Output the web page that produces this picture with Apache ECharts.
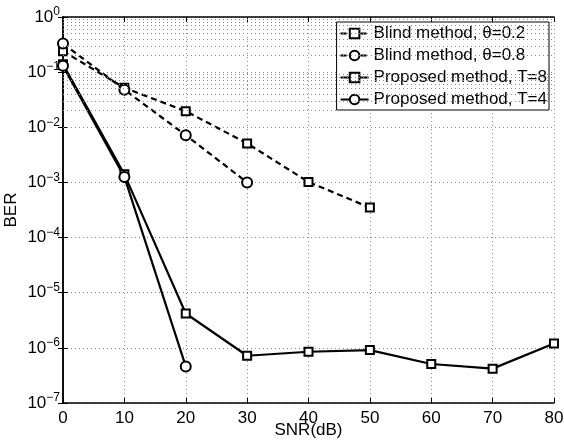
<!DOCTYPE html>
<html>
<head>
<meta charset="utf-8">
<script src="https://cdn.jsdelivr.net/npm/echarts@6/dist/echarts.min.js"></script>
<style>
  html, body { margin: 0; padding: 0; background: #fff; }
  #chart { width: 564px; height: 444px; }
</style>
</head>
<body>
<div id="chart"></div>
<script>
// SNR values (dB)
var snrBlind02 = [0, 10, 20, 30, 40, 50];
var snrBlind08 = [0, 10, 20, 30];
var snrT8 = [0, 10, 20, 30, 40, 50, 60, 70, 80];
var snrT4 = [0, 10, 20];

// BER
var berBlind02 = [0.24, 0.052, 0.0196, 0.0051, 0.00102, 0.00035];
var berBlind08 = [0.33, 0.048, 0.0072, 0.001];
var berT8 = [0.139, 0.0014, 4.2e-6, 7.2e-7, 8.5e-7, 9.1e-7, 5.1e-7, 4.2e-7, 1.2e-6];
var berT4 = [0.13, 0.00126, 4.6e-7];

var seriesNames = [
    'Blind method, \u03b8=0.2',
    'Blind method, \u03b8=0.8',
    'Proposed method, T=8',
    'Proposed method, T=4'
];

function pairs(xs, ys) {
    return xs.map(function (x, i) { return [x, ys[i]]; });
}

// minor log grid lines (2..9 x 10^k)
var minorLines = [];
for (var k = -7; k < 0; k++) {
    for (var m = 2; m <= 9; m++) {
        minorLines.push({ yAxis: m * Math.pow(10, k) });
    }
}

var font = 'Liberation Sans, Arial, sans-serif';
var dotted = { color: '#8c8c8c', width: 1, type: [1, 3] };

function supLabel(v) {
    var e = Math.round(Math.log10(v));
    var s = e < 0 ? '\u2212' + (-e) : String(e);
    return '{b|10}{e|' + s + '}';
}

var chart = echarts.init(document.getElementById('chart'));

function mkSeries(name, data, symbol, size, dashed) {
    return {
        name: name,
        type: 'line',
        data: data,
        symbol: symbol,
        symbolSize: size,
        showAllSymbol: true,
        lineStyle: { color: '#000', width: 2.2, type: dashed ? [6, 4] : 'solid' },
        itemStyle: { color: '#000', borderColor: '#000', borderWidth: 1.8 },
        emphasis: { disabled: true },
        z: 3
    };
}

chart.setOption({
    animation: false,
    backgroundColor: '#fff',
    textStyle: { fontFamily: font },
    grid: { left: 63, right: 10, top: 17, bottom: 41, outerBoundsMode: 'none', containLabel: false },
    legend: {
        data: seriesNames,
        orient: 'vertical',
        right: 15,
        top: 22,
        padding: [3, 2, 2, 3],
        itemGap: 5,
        itemWidth: 28,
        itemHeight: 12,
        backgroundColor: '#fff',
        borderColor: '#000',
        borderWidth: 1,
        borderRadius: 0,
        textStyle: { fontSize: 17, color: '#000', fontFamily: font, lineHeight: 17 }
    },
    xAxis: [{
        type: 'value',
        min: 0,
        max: 80,
        interval: 10,
        name: 'SNR(dB)',
        nameLocation: 'middle',
        nameGap: 19,
        nameMoveOverlap: false,
        nameTextStyle: { fontSize: 17, color: '#000', fontFamily: font },
        axisLine: { lineStyle: { color: '#000', width: 1.5 } },
        axisTick: { inside: true, length: 5, lineStyle: { color: '#000' } },
        axisLabel: { fontSize: 17, color: '#000', margin: 7, fontFamily: font },
        splitLine: { show: true, lineStyle: dotted }
    }, {
        type: 'value',
        position: 'top',
        min: 0,
        max: 80,
        interval: 10,
        axisLine: { lineStyle: { color: '#000', width: 1.5 } },
        axisTick: { inside: true, length: 5, lineStyle: { color: '#000' } },
        axisLabel: { show: false },
        splitLine: { show: false }
    }],
    yAxis: [{
        type: 'log',
        logBase: 10,
        min: 1e-7,
        max: 1,
        name: 'BER',
        nameLocation: 'middle',
        nameGap: 43,
        nameMoveOverlap: false,
        nameTextStyle: { fontSize: 17, color: '#000', fontFamily: font },
        axisLine: { show: true, lineStyle: { color: '#000', width: 1.5 } },
        axisTick: { show: true, inside: true, length: 5, lineStyle: { color: '#000' } },
        axisLabel: {
            margin: 3,
            formatter: supLabel,
            rich: {
                b: { fontSize: 17, color: '#000', fontFamily: font },
                e: { fontSize: 12, color: '#000', fontFamily: font, padding: [0, 0, 10, 0] }
            }
        },
        splitLine: { show: true, lineStyle: dotted }
    }, {
        type: 'log',
        logBase: 10,
        min: 1e-7,
        max: 1,
        position: 'right',
        axisLine: { show: true, lineStyle: { color: '#000', width: 1.5 } },
        axisTick: { show: true, inside: true, length: 5, lineStyle: { color: '#000' } },
        axisLabel: { show: false },
        splitLine: { show: false }
    }],
    series: [
        {
            name: 'minor-grid',
            type: 'line',
            data: [],
            silent: true,
            z: 1,
            markLine: {
                silent: true,
                symbol: 'none',
                label: { show: false },
                lineStyle: dotted,
                emphasis: { disabled: true },
                data: minorLines
            }
        },
        mkSeries(seriesNames[0], pairs(snrBlind02, berBlind02), 'emptyRect', 8, true),
        mkSeries(seriesNames[1], pairs(snrBlind08, berBlind08), 'emptyCircle', 10, true),
        mkSeries(seriesNames[2], pairs(snrT8, berT8), 'emptyRect', 8, false),
        mkSeries(seriesNames[3], pairs(snrT4, berT4), 'emptyCircle', 10, false)
    ]
});
</script>
</body>
</html>
